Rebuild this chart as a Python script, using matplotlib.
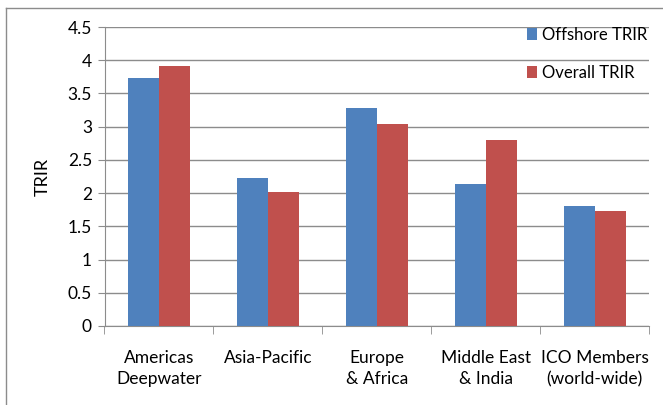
import numpy as np
import matplotlib.pyplot as plt
from matplotlib.lines import Line2D

categories = ['Americas\nDeepwater', 'Asia-Pacific', 'Europe\n& Africa',
              'Middle East\n& India', 'ICO Members\n(world-wide)']
offshore = [3.73, 2.22, 3.28, 2.13, 1.80]
overall = [3.91, 2.01, 3.04, 2.80, 1.73]
yticks = [0, 0.5, 1, 1.5, 2, 2.5, 3, 3.5, 4, 4.5]
ytick_labels = ['0', '0.5', '1', '1.5', '2', '2.5', '3', '3.5', '4', '4.5']

plt.rcParams['font.family'] = ['Lato', 'DejaVu Sans']

fig = plt.figure(figsize=(6.63, 4.05), dpi=100, facecolor='white')
ax = fig.add_axes([104.5 / 663, 1 - 326 / 405, (649 - 104.5) / 663, (326 - 27) / 405])

x = np.arange(len(categories))
w = 0.285
ax.bar(x - w / 2, offshore, w, color='#4F81BD', label='Offshore TRIR', zorder=3)
ax.bar(x + w / 2, overall, w, color='#C0504D', label='Overall TRIR', zorder=3)

ax.set_xlim(-0.5, len(categories) - 0.5)
ax.set_ylim(0, 4.5)
ax.set_yticks(yticks)
ax.set_yticklabels(ytick_labels, fontsize=12.5)
ax.yaxis.grid(True, color='#8C8C8C', linewidth=1, zorder=0)

# category labels between boundary ticks
ax.set_xticks(x)
ax.set_xticklabels(categories, fontsize=12.5, linespacing=1.45)
ax.tick_params(axis='x', length=0, pad=17)
ax.set_xticks(np.arange(-0.5, len(categories)), minor=True)
ax.tick_params(axis='x', which='minor', length=6, color='#8C8C8C')
ax.tick_params(axis='y', length=5, color='#8C8C8C', pad=4)

for side in ['top', 'right']:
    ax.spines[side].set_visible(False)
for side in ['left', 'bottom']:
    ax.spines[side].set_color('#8C8C8C')

ax.set_ylabel('TRIR', fontsize=13, labelpad=12)

ax.legend(loc='upper right', bbox_to_anchor=(1.025, 1.05), frameon=False,
          fontsize=12, handlelength=0.55, handleheight=0.7, handletextpad=0.35,
          labelspacing=1.3)

# outer chart border
fig.add_artist(Line2D([6 / 663, 6 / 663], [0, 1 - 8 / 405], color='#8C8C8C', lw=1))
fig.add_artist(Line2D([6 / 663, 1], [1 - 8 / 405, 1 - 8 / 405], color='#8C8C8C', lw=1))

fig.savefig('out.png', dpi=100, facecolor='white')
